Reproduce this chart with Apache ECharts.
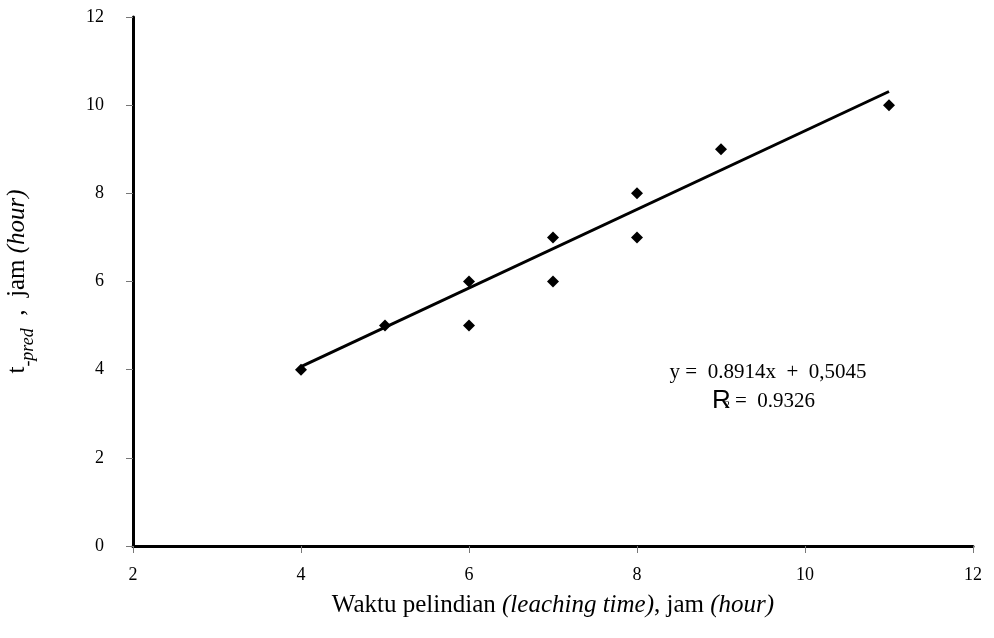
<!DOCTYPE html>
<html>
<head>
<meta charset="utf-8">
<script src="https://cdn.jsdelivr.net/npm/echarts@6/dist/echarts.min.js"></script>
<style>
  html, body { margin: 0; padding: 0; background: #fff; }
  #container { width: 994px; height: 638px; }
</style>
</head>
<body>
<div id="container"></div>
<script>
// observed points: leaching time vs predicted time
var leachTime = [4, 5, 6, 6, 7, 7, 8, 8, 9, 11];
var predTime  = [4, 5, 6, 5, 7, 6, 8, 7, 9, 10];
// trend line ends
var trendX = [4, 11];
var trendY = [4.07, 10.31];

var xTicks = [2, 4, 6, 8, 10, 12];
var yTicks = [0, 2, 4, 6, 8, 10, 12];

var serif = '"Liberation Serif", "Times New Roman", serif';

var dom = document.getElementById('container');
var myChart = echarts.init(dom);

var points = leachTime.map(function (x, i) { return [x, predTime[i]]; });
var trend = trendX.map(function (x, i) { return [x, trendY[i]]; });

option = {
  animation: false,
  backgroundColor: '#fff',
  grid: { left: 133, right: 21, top: 17, bottom: 92, outerBoundsMode: 'none' },
  xAxis: {
    type: 'value',
    min: xTicks[0],
    max: xTicks[xTicks.length - 1],
    interval: 2,
    name: '{n|Waktu pelindian }{i|(leaching time)}{n|, jam }{i|(hour)}',
    nameLocation: 'middle',
    nameGap: 47,
    nameTextStyle: {
      rich: {
        n: { fontFamily: serif, fontSize: 25, color: '#000' },
        i: { fontFamily: serif, fontSize: 25, color: '#000', fontStyle: 'italic' }
      }
    },
    axisLine: { show: true, onZero: false, lineStyle: { color: '#000', width: 3 } },
    axisTick: { show: true, length: 7, lineStyle: { color: '#777', width: 1 } },
    axisLabel: { fontFamily: serif, fontSize: 18, color: '#000', margin: 20 },
    splitLine: { show: false }
  },
  yAxis: {
    type: 'value',
    min: yTicks[0],
    max: yTicks[yTicks.length - 1],
    interval: 2,
    name: '{t|t}{s|-pred}{n|  ,  jam }{i|(hour)}',
    nameLocation: 'middle',
    nameRotate: 90,
    nameGap: 96,
    nameTextStyle: {
      rich: {
        t: { fontFamily: serif, fontSize: 25, color: '#000', lineHeight: 32, verticalAlign: 'top' },
        s: { fontFamily: serif, fontSize: 18, color: '#000', fontStyle: 'italic', lineHeight: 32, verticalAlign: 'bottom' },
        n: { fontFamily: serif, fontSize: 25, color: '#000', lineHeight: 32, verticalAlign: 'top' },
        i: { fontFamily: serif, fontSize: 25, color: '#000', fontStyle: 'italic', lineHeight: 32, verticalAlign: 'top' }
      }
    },
    axisLine: { show: true, onZero: false, lineStyle: { color: '#000', width: 3 } },
    axisTick: { show: true, length: 7, lineStyle: { color: '#777', width: 1 } },
    axisLabel: { fontFamily: serif, fontSize: 18, color: '#000', margin: 29 },
    splitLine: { show: false }
  },
  graphic: [
    {
      type: 'text',
      x: 768,
      y: 372,
      style: {
        text: 'y =  0.8914x  +  0,5045',
        font: '21px ' + serif,
        fill: '#000',
        align: 'center',
        verticalAlign: 'middle'
      }
    },
    {
      type: 'text',
      x: 712,
      y: 401,
      style: {
        text: '{r|R}{e|2}{v| =  0.9326}',
        verticalAlign: 'middle',
        rich: {
          r: { font: '26px "Liberation Sans", Arial, sans-serif', fill: '#000' },
          e: { font: '10px ' + serif, fill: '#000', padding: [8, 0, 0, -6] },
          v: { font: '21px ' + serif, fill: '#000' }
        }
      }
    }
  ],
  series: [
    {
      type: 'line',
      data: trend,
      showSymbol: false,
      symbol: 'none',
      lineStyle: { color: '#000', width: 3 },
      z: 2
    },
    {
      type: 'scatter',
      data: points,
      symbol: 'diamond',
      symbolSize: 12,
      itemStyle: { color: '#000', opacity: 1 },
      z: 3
    }
  ]
};

myChart.setOption(option, true);
</script>
</body>
</html>
